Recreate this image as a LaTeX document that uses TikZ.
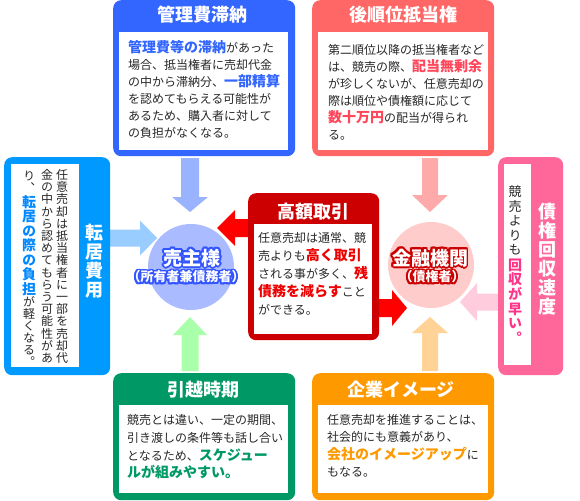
\documentclass[tikz,border=0pt]{standalone}
\usepackage{fontspec}
\setmainfont{Noto Sans CJK JP}
\newfontfamily\jpv{Noto Sans CJK JP}[RawFeature=+vert]
\definecolor{cBlue}{RGB}{51,102,255}
\definecolor{cSalmon}{RGB}{255,102,102}
\definecolor{cSky}{RGB}{0,153,255}
\definecolor{cPink}{RGB}{255,102,153}
\definecolor{cRed}{RGB}{204,0,0}
\definecolor{cGreen}{RGB}{0,153,102}
\definecolor{cOrange}{RGB}{255,153,0}
\definecolor{aBlue}{RGB}{153,179,255}
\definecolor{aSky}{RGB}{153,204,255}
\definecolor{aGreen}{RGB}{170,255,170}
\definecolor{aSalmon}{RGB}{255,170,170}
\definecolor{aPink}{RGB}{255,204,221}
\definecolor{aOrange}{RGB}{255,210,150}
\definecolor{aRed}{RGB}{255,0,0}
\definecolor{circB}{RGB}{170,187,255}
\definecolor{circR}{RGB}{255,204,204}
\definecolor{hBlue}{RGB}{51,102,255}
\definecolor{hSalmon}{RGB}{255,70,90}
\definecolor{hSky}{RGB}{0,136,255}
\definecolor{hPink}{RGB}{255,51,136}
\definecolor{hRed}{RGB}{238,0,0}
\definecolor{hGreen}{RGB}{0,153,102}
\definecolor{hOrange}{RGB}{255,153,0}
\definecolor{oBlue}{RGB}{51,85,255}
\definecolor{oRed}{RGB}{204,0,0}
\definecolor{txt}{RGB}{40,40,40}

\newcommand\hl[2]{{\color{#1}\fontsize{14}{17}\selectfont\bfseries #2}}
% horizontal lines of body text: x, first baseline, line step, list
\newcommand\textlines[4]{%
  \foreach \L [count=\i from 0] in {#4} {\node[bodytxt] at (#1,{#2+\i*#3}) {\L};}}
% vertical text: x, first centre, step, size, colour, list
\newcommand\vtxt[6]{%
  \foreach \C [count=\i from 0] in {#6} {\node[anchor=base,inner sep=0pt,text=#5,
    font=\jpv\fontsize{#4}{#4}\selectfont] at (#1,{#2+\i*#3+0.38*#4}) {\C};}}
\newcommand\vtxtb[6]{%
  \foreach \C [count=\i from 0] in {#6} {\node[anchor=base,inner sep=0pt,text=#5,
    font=\jpv\bfseries\fontsize{#4}{#4}\selectfont] at (#1,{#2+\i*#3+0.38*#4}) {\C};}}
% outlined label: x, centre y, size, outline colour, text
\newcommand\outl[5]{%
  \foreach \a in {0,22.5,...,337.5} {\node[anchor=base,inner sep=0pt,text=#4,
    font=\bfseries\fontsize{#3}{#3}\selectfont,xshift={1.8*cos(\a)},yshift={1.8*sin(\a)}]
    at (#1,{#2+0.38*#3}) {#5};}
  \node[anchor=base,inner sep=0pt,text=white,font=\bfseries\fontsize{#3}{#3}\selectfont]
    at (#1,{#2+0.38*#3}) {#5};}
% fat arrow: colour, x, y, angle, length, head length, shaft half, head half
\newcommand\farrow[8]{%
  \fill[#1,shift={(#2,#3)},rotate=#4] (0,-#7) -- ({#5-#6},-#7) -- ({#5-#6},-#8)
    -- (#5,0) -- ({#5-#6},#8) -- ({#5-#6},#7) -- (0,#7) -- cycle;}

\tikzset{
  panel/.style={draw=none,rounded corners=8pt,inner sep=0pt,anchor=north west},
  inbox/.style={fill=white,draw=none,inner sep=0pt,anchor=north west},
  title/.style={anchor=base,inner sep=0pt,text=white,font=\bfseries\fontsize{18}{18}\selectfont},
  bodytxt/.style={anchor=base west,inner sep=0pt,text=txt,font=\fontsize{12}{17}\selectfont},
  disc/.style={circle,draw=none,inner sep=0pt,minimum size=86pt}
}

\begin{document}
\begin{tikzpicture}[x=1pt,y=-1pt]
\useasboundingbox (0,0) rectangle (580,500);
\fill[white] (0,0) rectangle (580,500);

% circles
\node[disc,fill=circB] (uri) at (191,267) {};
\node[disc,fill=circR] (kin) at (431,265) {};

% arrows
\farrow{aBlue}{190}{158}{-90}{54}{15}{9}{18}
\farrow{aSky}{110}{238}{0}{47}{17}{8.5}{17.5}
\farrow{aGreen}{190}{371}{90}{54}{18}{8.5}{17}
\farrow{aSalmon}{430}{158}{-90}{54}{17}{8}{18}
\farrow{aPink}{498}{302}{180}{38}{17}{8.5}{19}
\farrow{aOrange}{430}{371}{90}{54}{16}{8}{18}
\farrow{aRed}{249}{228}{180}{32}{18}{9}{18}
\farrow{aRed}{378}{308}{0}{29}{15}{9}{18}

% panels
\node[panel,fill=cBlue,minimum width=182pt,minimum height=156pt] (kanri) at (113,0) {};
\node[inbox,minimum width=169pt,minimum height=118pt] (kanriIn) at (119,32) {};
\node[panel,fill=cSalmon,minimum width=182pt,minimum height=156pt] (gojun) at (312,0) {};
\node[inbox,minimum width=170pt,minimum height=118pt] (gojunIn) at (318,32) {};
\node[panel,fill=cSky,minimum width=106pt,minimum height=218pt] (tenkyo) at (4,157) {};
\node[inbox,minimum width=68pt,minimum height=203pt] (tenkyoIn) at (11,164) {};
\node[panel,fill=cPink,minimum width=65pt,minimum height=218pt] (saiken) at (498,157) {};
\node[inbox,minimum width=27pt,minimum height=201pt] (saikenIn) at (504,164) {};
\node[panel,fill=cRed,minimum width=131pt,minimum height=147pt] (kogaku) at (248,193) {};
\node[inbox,minimum width=118pt,minimum height=110pt] (kogakuIn) at (254,224) {};
\node[panel,fill=cGreen,minimum width=182pt,minimum height=127pt] (hikkoshi) at (113,373) {};
\node[inbox,minimum width=169pt,minimum height=88pt] (hikkoshiIn) at (119,405) {};
\node[panel,fill=cOrange,minimum width=182pt,minimum height=127pt] (kigyo) at (312,373) {};
\node[inbox,minimum width=170pt,minimum height=88pt] (kigyoIn) at (318,405) {};

% titles
\node[title] (tKanri) at (202,21.8) {管理費滞納};
\node[title] (tGojun) at (403,21.8) {後順位抵当権};
\node[title] (tKogaku) at (313,218.8) {高額取引};
\node[title] (tHikkoshi) at (203,396.8) {引越時期};
\node[title] (tKigyo) at (401,396.8) {企業イメージ};
\vtxtb{94}{233}{19}{18}{white}{転,居,費,用}
\vtxtb{547}{212}{19}{18}{white}{債,権,回,収,速,度}

% bodies
\textlines{128}{52.6}{17}{\hl{hBlue}{管理費等の滞納}があった,場合、抵当権者に売却代金,の中から滞納分、\hl{hBlue}{一部精算},を認めてもらえる可能性が,あるため、購入者に対して,の負担がなくなる。}
\textlines{328}{54.6}{17}{第二順位以降の抵当権者など,は、競売の際、\hl{hSalmon}{配当無剰余},が珍しくないが、任意売却の,際は順位や債権額に応じて,\hl{hSalmon}{数十万円}の配当が得られ,る。}
\textlines{258}{242.6}{18}{任意売却は通常、競,売よりも\hl{hRed}{高く取引},される事が多く、\hl{hRed}{残},\hl{hRed}{債務を減らす}こと,ができる。}
\textlines{127}{424.6}{17.7}{競売とは違い、一定の期間、,引き渡しの条件等も話し合い,となるため、\hl{hGreen}{スケジュー},\hl{hGreen}{ルが組みやすい。}}
\textlines{327}{424.6}{17.3}{任意売却を推進することは、,社会的にも意義があり、,\hl{hOrange}{会社のイメージアップ}に,もなる。}

% vertical bodies
\vtxt{62}{175}{12.2}{12}{txt}{任,意,売,却,は,抵,当,権,者,に,一,部,を,売,却,代}
\vtxt{47}{175}{12.2}{12}{txt}{金,の,中,か,ら,認,め,て,も,ら,う,可,能,性,が,あ}
\vtxt{29}{176}{12}{12}{txt}{り,、}
\vtxtb{29}{202}{14.5}{14}{hSky}{転,居,の,際,の,負,担}
\vtxt{29}{302}{12}{12}{txt}{が,軽,く,な,る,。}
\vtxt{515}{192}{14.5}{13}{txt}{競,売,よ,り,も}
\vtxtb{515}{265}{14.6}{14}{hPink}{回,収,が,早,い,。}

% circle labels
\outl{192}{258}{19}{oBlue}{売主様}
\outl{186}{277}{13}{oBlue}{（所有者兼債務者）}
\outl{430}{258}{19}{oRed}{金融機関}
\outl{432}{277}{13}{oRed}{（債権者）}
\end{tikzpicture}
\end{document}
